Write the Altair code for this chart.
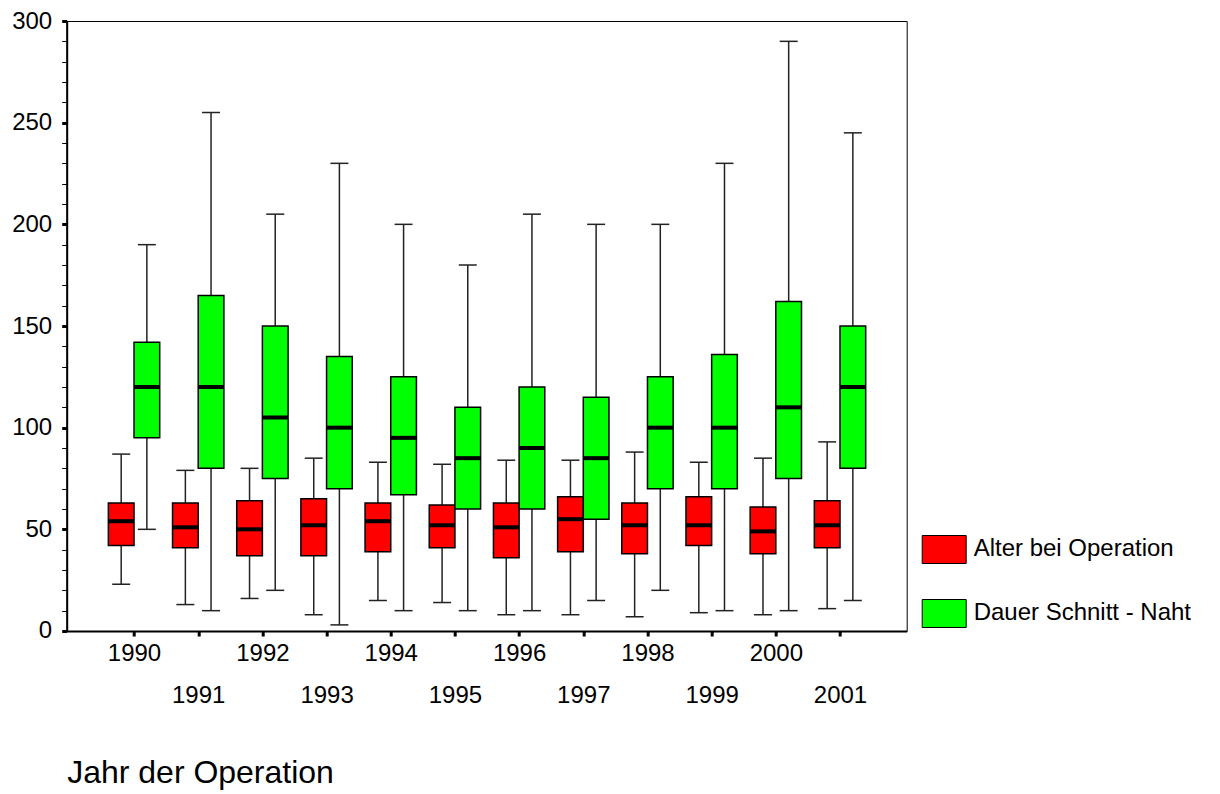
import altair as alt
import pandas as pd

years = list(range(1990, 2002))
series_names = ["Alter bei Operation", "Dauer Schnitt - Naht"]
series_colors = ["#FF0000", "#00FF00"]

# Alter bei Operation
age_lo  = [23, 13, 16, 8, 15, 14, 8, 8, 7, 9, 8, 11]
age_q1  = [42, 41, 37, 37, 39, 41, 36, 39, 38, 42, 38, 41]
age_med = [54, 51, 50, 52, 54, 52, 51, 55, 52, 52, 49, 52]
age_q3  = [63, 63, 64, 65, 63, 62, 63, 66, 63, 66, 61, 64]
age_hi  = [87, 79, 80, 85, 83, 82, 84, 84, 88, 83, 85, 93]

# Dauer Schnitt - Naht
dur_lo  = [50, 10, 20, 3, 10, 10, 10, 15, 20, 10, 10, 15]
dur_q1  = [95, 80, 75, 70, 67, 60, 60, 55, 70, 70, 75, 80]
dur_med = [120, 120, 105, 100, 95, 85, 90, 85, 100, 100, 110, 120]
dur_q3  = [142, 165, 150, 135, 125, 110, 120, 115, 125, 136, 162, 150]
dur_hi  = [190, 255, 205, 230, 200, 180, 205, 200, 200, 230, 290, 245]

group_offset = {series_names[0]: -0.2, series_names[1]: 0.2}
half_box = 0.2
half_cap = 0.14

rows = []
for s, (lo, q1, md, q3, hi) in zip(series_names, [
        (age_lo, age_q1, age_med, age_q3, age_hi),
        (dur_lo, dur_q1, dur_med, dur_q3, dur_hi)]):
    for i, yr in enumerate(years):
        xc = yr + group_offset[s]
        rows.append(dict(series=s, year=yr, xc=xc,
                         x0=xc - half_box, x1=xc + half_box,
                         c0=xc - half_cap, c1=xc + half_cap,
                         lo=lo[i], q1=q1[i], med=md[i], q3=q3[i], hi=hi[i]))
df = pd.DataFrame(rows)

FONT = "Liberation Sans"

x_scale = alt.Scale(domain=[1988.951, 2002.039], nice=False, zero=False)
y_scale = alt.Scale(domain=[0, 300], nice=False, zero=True)

x_axis = alt.Axis(
    values=years, format="d", grid=False, title="Jahr der Operation",
    labelExpr="datum.value % 2 == 1 ? ['', datum.label] : datum.label",
    labelLineHeight=42, labelFontSize=24, labelPadding=6, labelOverlap=False,
    labelFlush=False, tickSize=5, tickWidth=3, tickColor="black",
    domainColor="black", domainWidth=2,
    titleFontSize=32, titleFontWeight="normal", titleAnchor="start",
    titleAlign="left", titleBaseline="alphabetic", titleX=0, titleY=152,
    titleColor="black", titleFont=FONT,
)
y_axis = alt.Axis(
    values=list(range(0, 301, 10)), grid=False, title=None,
    labelExpr="datum.value % 50 == 0 ? datum.label : ''",
    labelFontSize=24, labelPadding=10, tickSize=5,
    tickWidth={"condition": {"test": "datum.value % 50 === 0", "value": 3}, "value": 1},
    tickColor="black", domainColor="black", domainWidth=2,
)

def X(field):
    return alt.X(f"{field}:Q", scale=x_scale, axis=x_axis)

def Y(field):
    return alt.Y(f"{field}:Q", scale=y_scale, axis=y_axis)

base = alt.Chart(df)

whisker = base.mark_rule(color="#222222", strokeWidth=1.5).encode(
    x=X("xc"), y=Y("lo"), y2="hi")
cap_lo = base.mark_rule(color="#222222", strokeWidth=1.5).encode(
    x=X("c0"), x2="c1", y=Y("lo"))
cap_hi = base.mark_rule(color="#222222", strokeWidth=1.5).encode(
    x=X("c0"), x2="c1", y=Y("hi"))
box = base.mark_rect(stroke="black", strokeWidth=1.5, opacity=1).encode(
    x=X("x0"), x2="x1", y=Y("q1"), y2="q3",
    color=alt.Color("series:N",
                    scale=alt.Scale(domain=series_names, range=series_colors),
                    legend=alt.Legend(
                        orient="none", legendX=855, legendY=506, title=None,
                        symbolType="M-1,-0.636H1V0.636H-1Z", symbolSize=1936,
                        symbolStrokeColor="black", symbolStrokeWidth=1,
                        symbolOpacity=1, labelFontSize=24, labelFont=FONT,
                        labelColor="black", labelOffset=7, rowPadding=25,
                        padding=0, labelLimit=400)))
median = base.mark_rule(color="black", strokeWidth=4).encode(
    x=X("x0"), x2="x1", y=Y("med"))

chart = alt.layer(whisker, cap_lo, cap_hi, box, median).properties(
    width=840, height=610,
    autosize=alt.AutoSizeParams(type="none"),
    padding={"left": 58.7, "top": 13, "right": 305, "bottom": 170},
    background="white",
).configure_view(
    stroke="black", strokeWidth=1
).configure_axis(
    labelFont=FONT, labelColor="black", titleFont=FONT
)

chart.save("out.html", embed_options={"renderer": "svg", "actions": False})
